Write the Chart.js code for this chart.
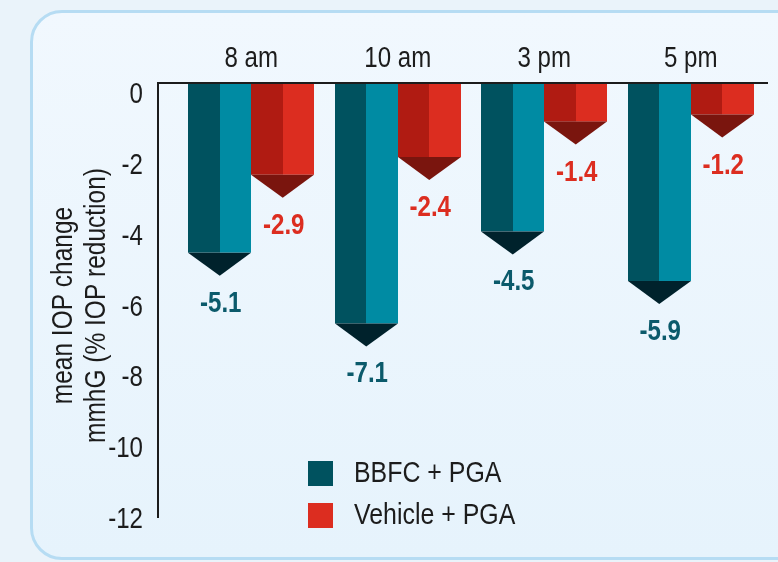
<!DOCTYPE html>
<html>
<head>
<meta charset="utf-8">
<script src="https://cdn.jsdelivr.net/npm/chart.js@4.4.0/dist/chart.umd.min.js"></script>
<style>
  html, body { margin: 0; padding: 0; background: #eaf3fa; }
  #wrap { position: relative; width: 778px; height: 562px; overflow: hidden; }
  .panel {
    position: absolute; left: 30px; top: 10px; width: 800px; height: 550px;
    border: 3px solid #b6dcf3; border-radius: 32px; box-sizing: border-box;
    background: linear-gradient(#f1f8fe, #e6f3fc);
  }
  canvas { position: absolute; left: 0; top: 0; }
</style>
</head>
<body>
<div id="wrap">
  <div class="panel"></div>
  <canvas id="iopChart" width="778" height="562"></canvas>
</div>
<script>
// chart data
const timePoints = ['8 am', '10 am', '3 pm', '5 pm'];
const bbfcValues = [-5.1, -7.1, -4.5, -5.9];
const vehicleValues = [-2.9, -2.4, -1.4, -1.2];
const yTickValues = [0, -2, -4, -6, -8, -10, -12];
const seriesLabels = ['BBFC + PGA', 'Vehicle + PGA'];
const yTitleLines = ['mean IOP change', 'mmhG (% IOP reduction)'];

const FONT = "'Liberation Sans', Arial, sans-serif";
const INK = '#1c1c1c';
const SQUEEZE = 0.83;   // fakes the condensed face of the original
const ARROW_H = 23;

function narrowText(ctx, text, x, y, font, color, align, rotation) {
    ctx.save();
    ctx.translate(x, y);
    if (rotation) ctx.rotate(rotation);
    ctx.scale(SQUEEZE, 1);
    ctx.font = font;
    ctx.fillStyle = color;
    ctx.textAlign = align;
    ctx.textBaseline = 'middle';
    ctx.fillText(text, 0, 0);
    ctx.restore();
}

// draws the two-tone "pencil" bars, labels, axes and legend
const arrowBars = {
    id: 'arrowBars',
    afterDatasetsDraw(chart) {
        const ctx = chart.ctx;
        const area = chart.chartArea;
        const axisX = area.left - 20;
        const xScale = chart.scales.x;
        const yScale = chart.scales.y;

        ctx.save();
        chart.data.datasets.forEach((ds, i) => {
            const meta = chart.getDatasetMeta(i);
            meta.data.forEach((bar, j) => {
                const l = Math.round(bar.x - bar.width / 2);
                const m = Math.round(bar.x);
                const r = Math.round(bar.x + bar.width / 2);
                const top = area.top + 1;
                const shoulder = bar.y - ARROW_H;

                ctx.fillStyle = ds.shadeDark;
                ctx.fillRect(l, top, m - l, shoulder - top);
                ctx.fillStyle = ds.shadeLight;
                ctx.fillRect(m, top, r - m, shoulder - top);

                ctx.fillStyle = ds.tipColor;
                ctx.beginPath();
                ctx.moveTo(l, shoulder);
                ctx.lineTo(r, shoulder);
                ctx.lineTo(bar.x, bar.y);
                ctx.closePath();
                ctx.fill();

                narrowText(ctx, ds.data[j].toFixed(1), bar.x + 1, bar.y + 28,
                    'bold 29px ' + FONT, ds.labelColor, 'center');
            });
        });

        // axis lines
        ctx.strokeStyle = INK;
        ctx.lineWidth = 2;
        ctx.beginPath();
        ctx.moveTo(axisX, area.bottom - 2);
        ctx.lineTo(axisX, area.top);
        ctx.lineTo(area.right + 4, area.top);
        ctx.stroke();

        // tick labels
        yScale.ticks.forEach(t => {
            narrowText(ctx, String(t.value), axisX - 15, yScale.getPixelForValue(t.value),
                '29px ' + FONT, INK, 'right');
        });
        chart.data.labels.forEach((lab, i) => {
            narrowText(ctx, lab, xScale.getPixelForTick(i), 59, '29px ' + FONT, INK, 'center');
        });

        // y title
        const midY = (area.top + area.bottom) / 2 + 4;
        yTitleLines.forEach((line, i) => {
            narrowText(ctx, line, 64 + i * 33, midY, '29.5px ' + FONT, INK, 'center', -Math.PI / 2);
        });

        // legend
        chart.data.datasets.forEach((ds, i) => {
            const y = 461 + i * 42;
            ctx.fillStyle = ds.legendColor;
            ctx.fillRect(308, y, 25, 25);
            narrowText(ctx, ds.label, 354, y + 13, '30px ' + FONT, INK, 'left');
        });
        ctx.restore();
    }
};

new Chart(document.getElementById('iopChart'), {
    type: 'bar',
    data: {
        labels: timePoints,
        datasets: [{
            label: seriesLabels[0],
            data: bbfcValues,
            backgroundColor: 'rgba(0,0,0,0)',
            shadeDark: '#00525f',
            shadeLight: '#008ba3',
            tipColor: '#00222c',
            labelColor: '#0b5a6b',
            legendColor: '#00525f'
        }, {
            label: seriesLabels[1],
            data: vehicleValues,
            backgroundColor: 'rgba(0,0,0,0)',
            shadeDark: '#b01b12',
            shadeLight: '#dc2d20',
            tipColor: '#7a150e',
            labelColor: '#dc2d20',
            legendColor: '#dc2d20'
        }]
    },
    options: {
        responsive: false,
        animation: false,
        devicePixelRatio: 1,
        categoryPercentage: 0.86,
        barPercentage: 1,
        layout: { padding: { left: 0, top: 0, right: 14, bottom: 42 } },
        plugins: {
            legend: { display: false },
            tooltip: { enabled: false }
        },
        scales: {
            x: {
                position: 'top',
                grid: { display: false, drawTicks: false },
                border: { display: false },
                ticks: { display: false },
                afterFit(scale) { scale.height = 83; }
            },
            y: {
                min: -12,
                max: 0.34,
                grid: { display: false, drawTicks: false },
                border: { display: false },
                afterBuildTicks(scale) { scale.ticks = yTickValues.map(v => ({ value: v })); },
                ticks: { display: false },
                afterFit(scale) { scale.width = 178; }
            }
        }
    },
    plugins: [arrowBars]
});
</script>
</body>
</html>
